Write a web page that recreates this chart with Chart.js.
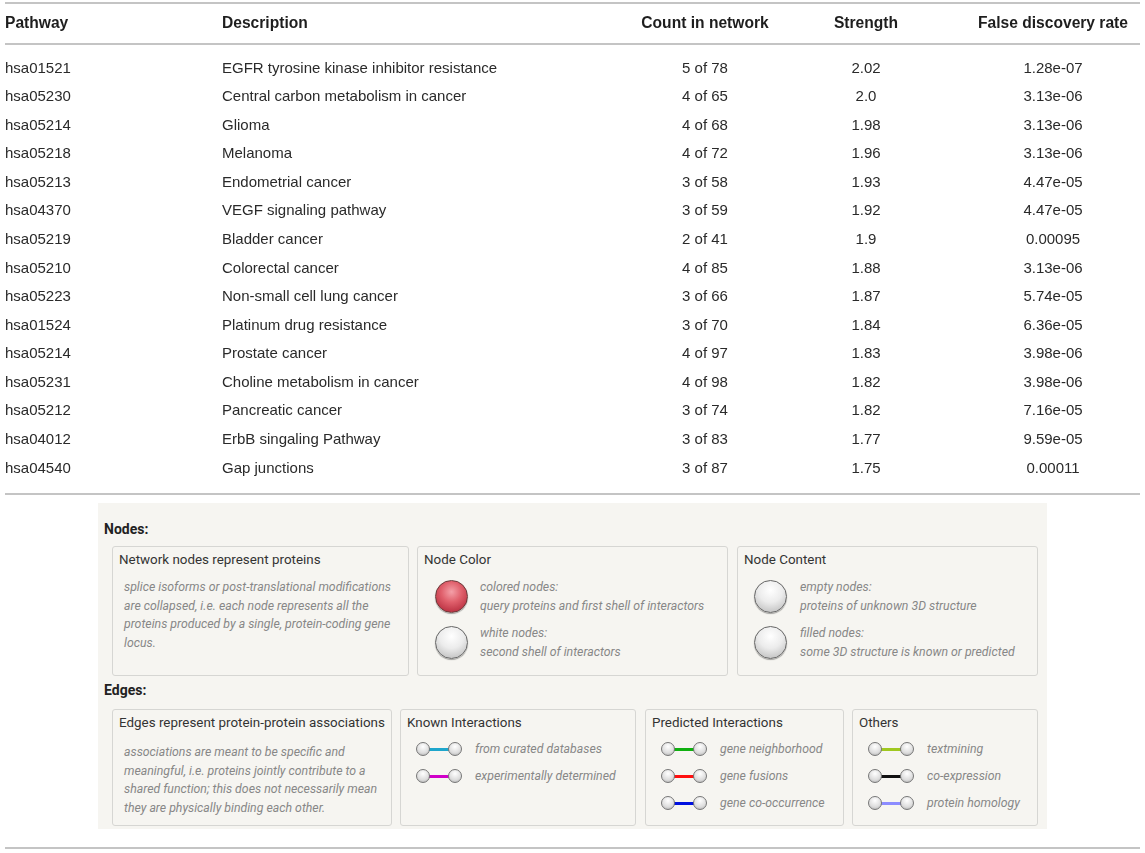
<!DOCTYPE html>
<html lang="en">
<head>
  <meta charset="UTF-8">
  <title>KEGG pathways</title>
  <script src="https://cdn.jsdelivr.net/npm/chart.js"></script>
  <style>
    body { margin: 0; background: #fff; width: 1145px; height: 853px; position: relative; overflow: hidden; }
    #tableChart { position: absolute; left: 0; top: 0; }
    .rule { position: absolute; left: 5px; width: 1135px; height: 2px; background: #c4c4c4; }
    #legend { position: absolute; left: 98px; top: 503px; width: 949px; height: 326px; background: #f6f5f1;
              font-family: Roboto, sans-serif; color: #333; }
    .hdr { position: absolute; left: 6px; font-weight: bold; font-size: 14px; color: #222; }
    .panel { position: absolute; border: 1px solid #d6d6d3; border-radius: 3px; box-sizing: border-box; }
    .ptitle { position: absolute; left: 6px; top: 5px; font-size: 13.4px; white-space: nowrap; }
    .desc { position: absolute; font-size: 12.3px; font-style: italic; color: #878787; line-height: 18.7px; white-space: nowrap; }
    .sphere { position: absolute; width: 33px; height: 33px; border-radius: 50%; box-sizing: border-box;
              box-shadow: 0 1px 1px rgba(0,0,0,0.35); }
    .red { background: radial-gradient(circle at 50% 35%, #f4a0a8 0%, #e0606c 40%, #c03848 75%, #8a2030 100%);
           border: 1.5px solid #6a3a3a; }
    .grey { background: radial-gradient(circle at 50% 30%, #ffffff 0%, #ececec 45%, #c8c8c8 80%, #a0a0a0 100%);
            border: 1.5px solid #666; }
    .edge { position: absolute; width: 46px; height: 15px; }
    .edge .n { position: absolute; top: 0; width: 14px; height: 14px; border-radius: 50%; box-sizing: border-box;
               border: 1px solid #777; background: radial-gradient(circle at 50% 30%, #fff 0%, #ddd 60%, #aaa 100%); }
    .edge .l { position: absolute; left: 12px; width: 22px; top: 6px; height: 2.5px; }
  </style>
</head>
<body>
  <canvas id="tableChart" width="1145" height="500"></canvas>
  <div class="rule" style="top:847px"></div>

  <div id="legend">
    <div class="hdr" style="top:18px">Nodes:</div>
    <div class="panel" style="left:14px; top:43px; width:297px; height:130px">
      <div class="ptitle">Network nodes represent proteins</div>
      <div class="desc" style="left:11px; top:31px">splice isoforms or post-translational modifications<br>are collapsed, i.e. each node represents all the<br>proteins produced by a single, protein-coding gene<br>locus.</div>
    </div>
    <div class="panel" style="left:319px; top:43px; width:311px; height:130px">
      <div class="ptitle">Node Color</div>
      <div class="sphere red" style="left:17px; top:33px"></div>
      <div class="desc" style="left:62px; top:31px">colored nodes:<br>query proteins and first shell of interactors</div>
      <div class="sphere grey" style="left:17px; top:79px"></div>
      <div class="desc" style="left:62px; top:77px">white nodes:<br>second shell of interactors</div>
    </div>
    <div class="panel" style="left:639px; top:43px; width:301px; height:130px">
      <div class="ptitle">Node Content</div>
      <div class="sphere grey" style="left:16px; top:33px"></div>
      <div class="desc" style="left:62px; top:31px">empty nodes:<br>proteins of unknown 3D structure</div>
      <div class="sphere grey" style="left:16px; top:79px"></div>
      <div class="desc" style="left:62px; top:77px">filled nodes:<br>some 3D structure is known or predicted</div>
    </div>

    <div class="hdr" style="top:179px">Edges:</div>
    <div class="panel" style="left:14px; top:206px; width:280px; height:117px">
      <div class="ptitle">Edges represent protein-protein associations</div>
      <div class="desc" style="left:11px; top:33px">associations are meant to be specific and<br>meaningful, i.e. proteins jointly contribute to a<br>shared function; this does not necessarily mean<br>they are physically binding each other.</div>
    </div>
    <div class="panel" style="left:302px; top:206px; width:236px; height:117px">
      <div class="ptitle">Known Interactions</div>
      <div id="known"></div>
    </div>
    <div class="panel" style="left:547px; top:206px; width:199px; height:117px">
      <div class="ptitle">Predicted Interactions</div>
      <div id="predicted"></div>
    </div>
    <div class="panel" style="left:754px; top:206px; width:186px; height:117px">
      <div class="ptitle">Others</div>
      <div id="others"></div>
    </div>
  </div>

  <script>
    // table data
    const pathways = ['hsa01521', 'hsa05230', 'hsa05214', 'hsa05218', 'hsa05213', 'hsa04370', 'hsa05219', 'hsa05210',
                      'hsa05223', 'hsa01524', 'hsa05214', 'hsa05231', 'hsa05212', 'hsa04012', 'hsa04540'];
    const descriptions = ['EGFR tyrosine kinase inhibitor resistance', 'Central carbon metabolism in cancer', 'Glioma',
                          'Melanoma', 'Endometrial cancer', 'VEGF signaling pathway', 'Bladder cancer', 'Colorectal cancer',
                          'Non-small cell lung cancer', 'Platinum drug resistance', 'Prostate cancer',
                          'Choline metabolism in cancer', 'Pancreatic cancer', 'ErbB singaling Pathway', 'Gap junctions'];
    const countInNetwork = [5, 4, 4, 4, 3, 3, 2, 4, 3, 3, 4, 4, 3, 3, 3];
    const backgroundCount = [78, 65, 68, 72, 58, 59, 41, 85, 66, 70, 97, 98, 74, 83, 87];
    const strength = [2.02, 2.0, 1.98, 1.96, 1.93, 1.92, 1.9, 1.88, 1.87, 1.84, 1.83, 1.82, 1.82, 1.77, 1.75];
    const fdr = ['1.28e-07', '3.13e-06', '3.13e-06', '3.13e-06', '4.47e-05', '4.47e-05', '0.00095', '3.13e-06',
                 '5.74e-05', '6.36e-05', '3.98e-06', '3.98e-06', '7.16e-05', '9.59e-05', '0.00011'];
    const headers = ['Pathway', 'Description', 'Count in network', 'Strength', 'False discovery rate'];

    // legend entries
    const knownEdges = ['from curated databases', 'experimentally determined'];
    const predictedEdges = ['gene neighborhood', 'gene fusions', 'gene co-occurrence'];
    const otherEdges = ['textmining', 'co-expression', 'protein homology'];

    const fmtStrength = v => Number.isInteger(Math.round(v * 100) / 10) ? v.toFixed(1) : String(v);

    // layout (row units on the y scale, pixels on the x scale)
    const headerRow = -1.54;
    const rules = [-2.27, -0.83, 14.91];
    const columns = [
      { x: 5,    align: 'left',   text: i => pathways[i] },
      { x: 222,  align: 'left',   text: i => descriptions[i] },
      { x: 705,  align: 'center', text: i => countInNetwork[i] + ' of ' + backgroundCount[i] },
      { x: 866,  align: 'center', text: i => fmtStrength(strength[i]) },
      { x: 1053, align: 'center', text: i => fdr[i] }
    ];

    const tablePlugin = {
      id: 'tableText',
      afterDatasetsDraw(chart) {
        const ctx = chart.ctx;
        const xs = chart.scales.x, ys = chart.scales.y;
        ctx.save();
        ctx.strokeStyle = '#c4c4c4';
        ctx.lineWidth = 2;
        rules.forEach(r => {
          const y = Math.round(ys.getPixelForValue(r));
          ctx.beginPath();
          ctx.moveTo(xs.getPixelForValue(5), y);
          ctx.lineTo(xs.getPixelForValue(1140), y);
          ctx.stroke();
        });
        ctx.textBaseline = 'middle';
        chart.data.datasets.forEach((ds, d) => {
          const col = columns[d];
          ctx.textAlign = col.align;
          ctx.fillStyle = '#1e1e1e';
          ctx.font = 'bold 15.6px "Liberation Sans", Arial, sans-serif';
          ctx.fillText(headers[d], xs.getPixelForValue(col.x), ys.getPixelForValue(headerRow));
          ctx.fillStyle = '#2a2a2a';
          ctx.font = '15px "Liberation Sans", Arial, sans-serif';
          chart.getDatasetMeta(d).data.forEach((el, i) => {
            ctx.fillText(col.text(i), el.x, el.y + 0.5);
          });
        });
        ctx.restore();
      }
    };

    new Chart(document.getElementById('tableChart'), {
      type: 'scatter',
      data: {
        datasets: columns.map((col, d) => ({
          label: headers[d],
          data: pathways.map((p, i) => ({ x: col.x, y: i })),
          pointRadius: 0
        }))
      },
      options: {
        responsive: false,
        animation: false,
        devicePixelRatio: 1,
        layout: { padding: 0 },
        plugins: { legend: { display: false }, tooltip: { enabled: false } },
        scales: {
          x: { type: 'linear', min: 0, max: 1145, display: false },
          y: { type: 'linear', min: -68 / 28.57, max: (500 - 68) / 28.57, reverse: true, display: false }
        }
      },
      plugins: [tablePlugin]
    });

    // edge legend icons
    const edgeColors = {
      known: ['#1ea6cc', '#d000c8'],
      predicted: ['#10b010', '#ff1010', '#0010e0'],
      others: ['#a0c820', '#111111', '#8c8cff']
    };
    function addEdges(id, labels, colors) {
      const box = document.getElementById(id);
      labels.forEach((lab, i) => {
        const top = 32 + i * 27;
        box.insertAdjacentHTML('beforeend',
          '<div class="edge" style="left:15px; top:' + top + 'px">' +
          '<div class="l" style="background:' + colors[i] + '"></div>' +
          '<div class="n" style="left:0"></div><div class="n" style="left:32px"></div></div>' +
          '<div class="desc" style="left:74px; top:' + (top - 2) + 'px">' + lab + '</div>');
      });
    }
    addEdges('known', knownEdges, edgeColors.known);
    addEdges('predicted', predictedEdges, edgeColors.predicted);
    addEdges('others', otherEdges, edgeColors.others);
  </script>
</body>
</html>
